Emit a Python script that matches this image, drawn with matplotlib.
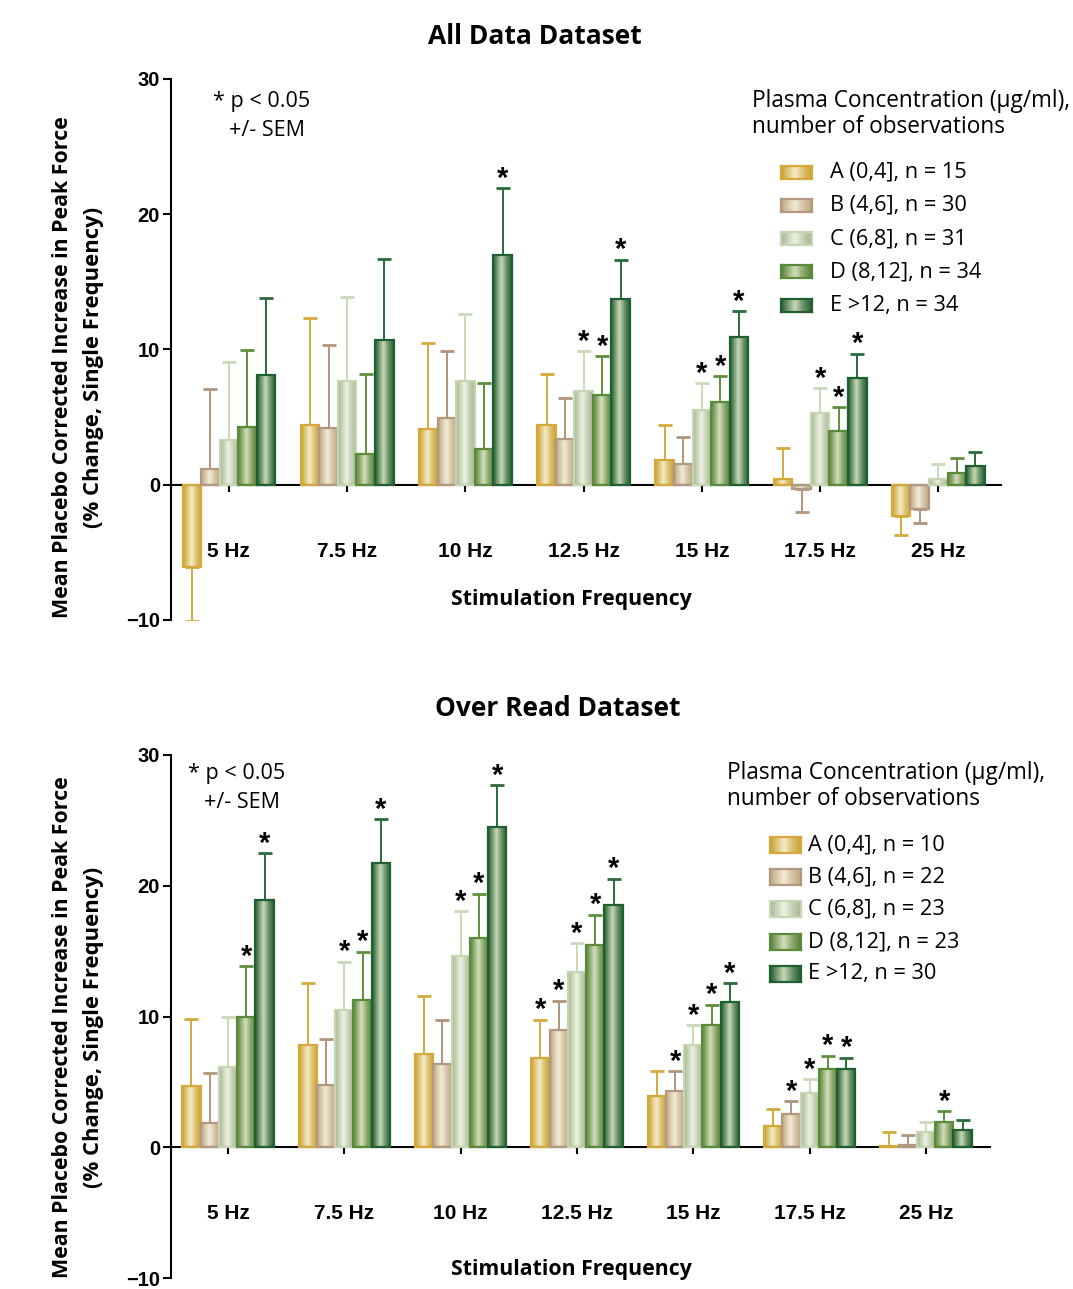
import numpy as np
import matplotlib.pyplot as plt
from matplotlib.colors import to_rgb

plt.rcParams['font.family'] = ['Open Sans', 'DejaVu Sans']

W, H = 1073, 1289

freqs = ['5 Hz', '7.5 Hz', '10 Hz', '12.5 Hz', '15 Hz', '17.5 Hz', '25 Hz']
groups = ['A (0,4]', 'B (4,6]', 'C (6,8]', 'D (8,12]', 'E >12']

# All Data Dataset: means, SEM, significance
all_a = [-6.1, 4.4, 4.1, 4.4, 1.8, 0.4, -2.3]
all_b = [1.2, 4.2, 4.9, 3.4, 1.5, -0.3, -1.8]
all_c = [3.3, 7.7, 7.7, 6.9, 5.5, 5.3, 0.4]
all_d = [4.3, 2.25, 2.65, 6.6, 6.1, 3.95, 0.85]
all_e = [8.1, 10.7, 17.0, 13.7, 10.9, 7.9, 1.4]
all_a_sem = [4.0, 7.9, 6.4, 3.8, 2.6, 2.35, 1.4]
all_b_sem = [5.9, 6.1, 5.0, 3.0, 2.05, 1.75, 1.05]
all_c_sem = [5.8, 6.15, 4.95, 3.0, 2.0, 1.85, 1.1]
all_d_sem = [5.65, 5.95, 4.85, 2.9, 1.95, 1.8, 1.1]
all_e_sem = [5.7, 6.0, 4.95, 2.95, 1.95, 1.8, 1.05]
all_a_sig = [0, 0, 0, 0, 0, 0, 0]
all_b_sig = [0, 0, 0, 0, 0, 0, 0]
all_c_sig = [0, 0, 0, 1, 1, 1, 0]
all_d_sig = [0, 0, 0, 1, 1, 1, 0]
all_e_sig = [0, 0, 1, 1, 1, 1, 0]
all_n = [15, 30, 31, 34, 34]

# Over Read Dataset
ovr_a = [4.7, 7.85, 7.1, 6.85, 3.9, 1.65, 0.1]
ovr_b = [1.85, 4.75, 6.4, 9.0, 4.3, 2.55, 0.15]
ovr_c = [6.1, 10.5, 14.6, 13.4, 7.8, 4.15, 1.15]
ovr_d = [9.95, 11.3, 16.0, 15.5, 9.35, 6.0, 1.9]
ovr_e = [18.9, 21.75, 24.5, 18.5, 11.1, 5.95, 1.3]
ovr_a_sem = [5.1, 4.75, 4.5, 2.9, 1.95, 1.3, 1.05]
ovr_b_sem = [3.8, 3.55, 3.3, 2.2, 1.5, 0.95, 0.8]
ovr_c_sem = [3.9, 3.7, 3.45, 2.2, 1.55, 1.05, 0.8]
ovr_d_sem = [3.9, 3.65, 3.4, 2.3, 1.55, 1.0, 0.85]
ovr_e_sem = [3.6, 3.35, 3.2, 2.05, 1.45, 0.9, 0.75]
ovr_a_sig = [0, 0, 0, 1, 0, 0, 0]
ovr_b_sig = [0, 0, 0, 1, 1, 1, 0]
ovr_c_sig = [0, 1, 1, 1, 1, 1, 0]
ovr_d_sig = [1, 1, 1, 1, 1, 1, 1]
ovr_e_sig = [1, 1, 1, 1, 1, 1, 0]
ovr_n = [10, 22, 23, 23, 30]

# styling
dark = ['#c89d2c', '#bda47c', '#a3b48e', '#527c30', '#1b5829']
light = ['#f6ebc6', '#f2ebd8', '#eef2e2', '#d3dfbb', '#c9d8b6']
edges = ['#d3a93a', '#b29880', '#c6d6b4', '#5b8b3a', '#1f5f31']
errc = ['#d4aa3c', '#b0947c', '#c9d9b9', '#5f8f3e', '#2a6a3b']
bw = 0.157


def gradient(i, n=64):
    t = np.linspace(0, 1, n)
    f = np.interp(t, [0, 0.12, 0.45, 0.72, 1.0], [0.0, 0.3, 1.0, 0.45, 0.05])
    d, l = np.array(to_rgb(dark[i])), np.array(to_rgb(light[i]))
    row = d[None, :] + (l - d)[None, :] * f[:, None]
    return row[None, :, :]


def draw_panel(ax, means, sems, sigs, xl):
    x = np.arange(len(freqs))
    for i in range(5):
        xpos = x + (i - 2) * bw
        m = np.array(means[i])
        s = np.array(sems[i])
        bars = ax.bar(xpos, m, bw, facecolor='none', edgecolor=edges[i],
                      linewidth=1.6, zorder=3)
        for b in bars:
            x0, y0, w, h = b.get_x(), b.get_y(), b.get_width(), b.get_height()
            ax.imshow(gradient(i), extent=[x0, x0 + w, min(y0, y0 + h), max(y0, y0 + h)],
                      aspect='auto', zorder=2, interpolation='bilinear')
        lower = np.where(m < 0, s, 0)
        upper = np.where(m >= 0, s, 0)
        ax.errorbar(xpos, m, yerr=[lower, upper], fmt='none', ecolor=errc[i],
                    elinewidth=1.4, capsize=5, capthick=2, zorder=1)
        for xp, mv, sv, sg in zip(xpos, m, s, sigs[i]):
            if sg:
                ax.annotate('*', (xp, mv + sv), xytext=(0, 1), textcoords='offset points',
                            ha='center', va='baseline', fontsize=21, fontweight='bold',
                            family='Liberation Sans', zorder=4)
    ax.set_xlim(*xl)
    ax.set_ylim(-10, 30)
    for sp in ['top', 'right']:
        ax.spines[sp].set_visible(False)
    ax.spines['bottom'].set_position(('data', 0))
    ax.spines['bottom'].set_linewidth(1.5)
    ax.spines['left'].set_linewidth(1.5)
    ax.tick_params(axis='x', direction='out', length=5, width=1.5, pad=36, labelsize=15)
    ax.tick_params(axis='y', direction='out', length=6, width=1.5, pad=2, labelsize=14.5)
    ax.set_yticks([-10, 0, 10, 20, 30])
    ax.set_xticks(x)
    ax.set_xticklabels(freqs)
    for lab in ax.get_xticklabels() + ax.get_yticklabels():
        lab.set_fontweight('bold')
        lab.set_family('Liberation Sans')
    ax.set_facecolor('none')


def legend_panel(fig, ns, tx, ty, sx, sy0, sdy, sw, sh, textx):
    fig.text(tx / W, 1 - ty / H, 'Plasma Concentration (\u03bcg/ml),', fontsize=16.3,
             va='center', ha='left')
    fig.text(tx / W, 1 - (ty + 26) / H, 'number of observations', fontsize=16.3,
             va='center', ha='left')
    for i in range(5):
        cy = sy0 + i * sdy
        lax = fig.add_axes([sx / W, 1 - (cy + sh / 2) / H, sw / W, sh / H])
        lax.imshow(gradient(i), aspect='auto', interpolation='bilinear')
        lax.set_xticks([])
        lax.set_yticks([])
        for sp in lax.spines.values():
            sp.set_color(edges[i])
            sp.set_linewidth(1.6)
        fig.text(textx / W, 1 - cy / H, f'{groups[i]}, n = {ns[i]}', fontsize=15.7,
                 va='center', ha='left')


fig = plt.figure(figsize=(W / 100, H / 100), dpi=100)

ax1 = fig.add_axes([171 / W, 1 - 620 / H, 830 / W, 541 / H])
draw_panel(ax1, [all_a, all_b, all_c, all_d, all_e],
           [all_a_sem, all_b_sem, all_c_sem, all_d_sem, all_e_sem],
           [all_a_sig, all_b_sig, all_c_sig, all_d_sig, all_e_sig], (-0.49, 6.53))

ax2 = fig.add_axes([171 / W, 1 - 1278 / H, 819 / W, 523 / H])
draw_panel(ax2, [ovr_a, ovr_b, ovr_c, ovr_d, ovr_e],
           [ovr_a_sem, ovr_b_sem, ovr_c_sem, ovr_d_sem, ovr_e_sem],
           [ovr_a_sig, ovr_b_sig, ovr_c_sig, ovr_d_sig, ovr_e_sig], (-0.49, 6.55))

# titles and labels
fig.text(535 / W, 1 - 37 / H, 'All Data Dataset', fontsize=19, fontweight='bold',
         ha='center', va='center')
fig.text(558 / W, 1 - 709 / H, 'Over Read Dataset', fontsize=19, fontweight='bold',
         ha='center', va='center')
fig.text(571 / W, 1 - 600 / H, 'Stimulation Frequency', fontsize=15.3, fontweight='bold',
         ha='center', va='center')
fig.text(571 / W, 1 - 1270 / H, 'Stimulation Frequency', fontsize=15.3, fontweight='bold',
         ha='center', va='center')
for cy in [367, 1027]:
    fig.text(63 / W, 1 - cy / H, 'Mean Placebo Corrected Increase in Peak Force',
             fontsize=15.4, fontweight='bold', rotation=90, ha='center', va='center')
    fig.text(94 / W, 1 - cy / H, '(% Change, Single Frequency)',
             fontsize=15.8, fontweight='bold', rotation=90, ha='center', va='center')

fig.text(213 / W, 1 - 101 / H, '* p < 0.05', fontsize=15.5, va='center', ha='left')
fig.text(229 / W, 1 - 131 / H, '+/- SEM', fontsize=15.5, va='center', ha='left')
fig.text(188 / W, 1 - 773 / H, '* p < 0.05', fontsize=15.5, va='center', ha='left')
fig.text(204 / W, 1 - 803 / H, '+/- SEM', fontsize=15.5, va='center', ha='left')

legend_panel(fig, all_n, 752, 101, 781, 172, 33.3, 31, 13, 830)
legend_panel(fig, ovr_n, 727, 773, 770, 845, 32.2, 31, 16, 808)

fig.savefig('out.png', dpi=100)
